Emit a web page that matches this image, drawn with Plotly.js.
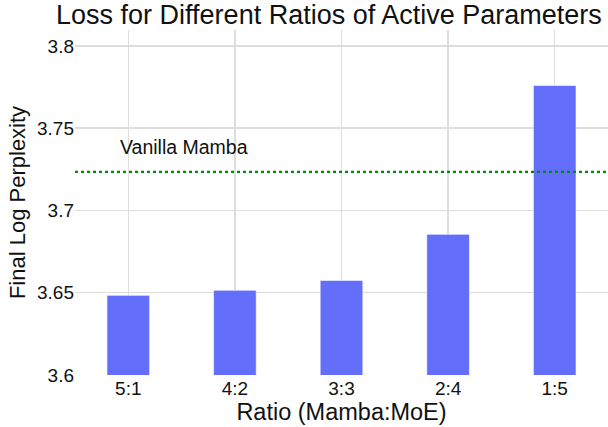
<!DOCTYPE html>
<html>
<head>
<meta charset="utf-8">
<script src="https://cdn.plot.ly/plotly-3.0.1.min.js"></script>
<style>html,body{margin:0;padding:0;background:#fff;}#chart{width:608px;height:427px;}</style>
</head>
<body>
<div id="chart"></div>
<script>
const ratios = ["5:1", "4:2", "3:3", "2:4", "1:5"];
const logPerplexity = [3.6484, 3.6515, 3.6575, 3.6855, 3.776];
const vanillaMamba = 3.7235;
const vanillaLabel = "Vanilla Mamba";

const fontFam = "Liberation Sans, Arial, sans-serif";

const data = [{
  type: "bar",
  x: ratios,
  y: logPerplexity,
  width: 0.4,
  marker: {color: "#636efa", line: {color: "#ffffff", width: 0.6}},
  showlegend: false
}];

const layout = {
  width: 608, height: 427,
  margin: {l: 75, r: 0, t: 30, b: 52},
  paper_bgcolor: "#ffffff",
  plot_bgcolor: "#ffffff",
  font: {family: fontFam, color: "#111111", size: 18},
  title: {
    text: "Loss for Different Ratios of Active Parameters",
    font: {size: 27, family: fontFam, color: "#111111"},
    x: 0.541, xref: "container", xanchor: "center",
    y: 0.988, yref: "container", yanchor: "top"
  },
  xaxis: {
    title: {text: "Ratio (Mamba:MoE)", font: {size: 23.5}, standoff: 5},
    showgrid: true, gridcolor: "#dddddd", gridwidth: 1.5,
    showline: false, zeroline: false, ticks: "",
    tickfont: {size: 19}
  },
  yaxis: {
    title: {text: "Final Log Perplexity", font: {size: 22}, standoff: 5},
    range: [3.6, 3.8097],
    tickvals: [3.6, 3.65, 3.7, 3.75, 3.8],
    ticktext: ["3.6", "3.65", "3.7", "3.75", "3.8"],
    showgrid: true, gridcolor: "#dddddd", gridwidth: 1.5,
    showline: false, zeroline: false, ticks: "",
    tickfont: {size: 19}
  },
  shapes: [{
    type: "line", xref: "paper", yref: "y",
    x0: 0, x1: 1, y0: vanillaMamba, y1: vanillaMamba,
    line: {color: "#008a00", width: 2.2, dash: "dot"}
  }],
  annotations: [{
    xref: "paper", yref: "y",
    x: 0.08, y: vanillaMamba, xanchor: "left", yanchor: "bottom",
    yshift: 12,
    text: vanillaLabel, showarrow: false,
    font: {size: 19.5, color: "#111111"}
  }]
};

Plotly.newPlot("chart", data, layout, {displayModeBar: false, staticPlot: true});
</script>
</body>
</html>
